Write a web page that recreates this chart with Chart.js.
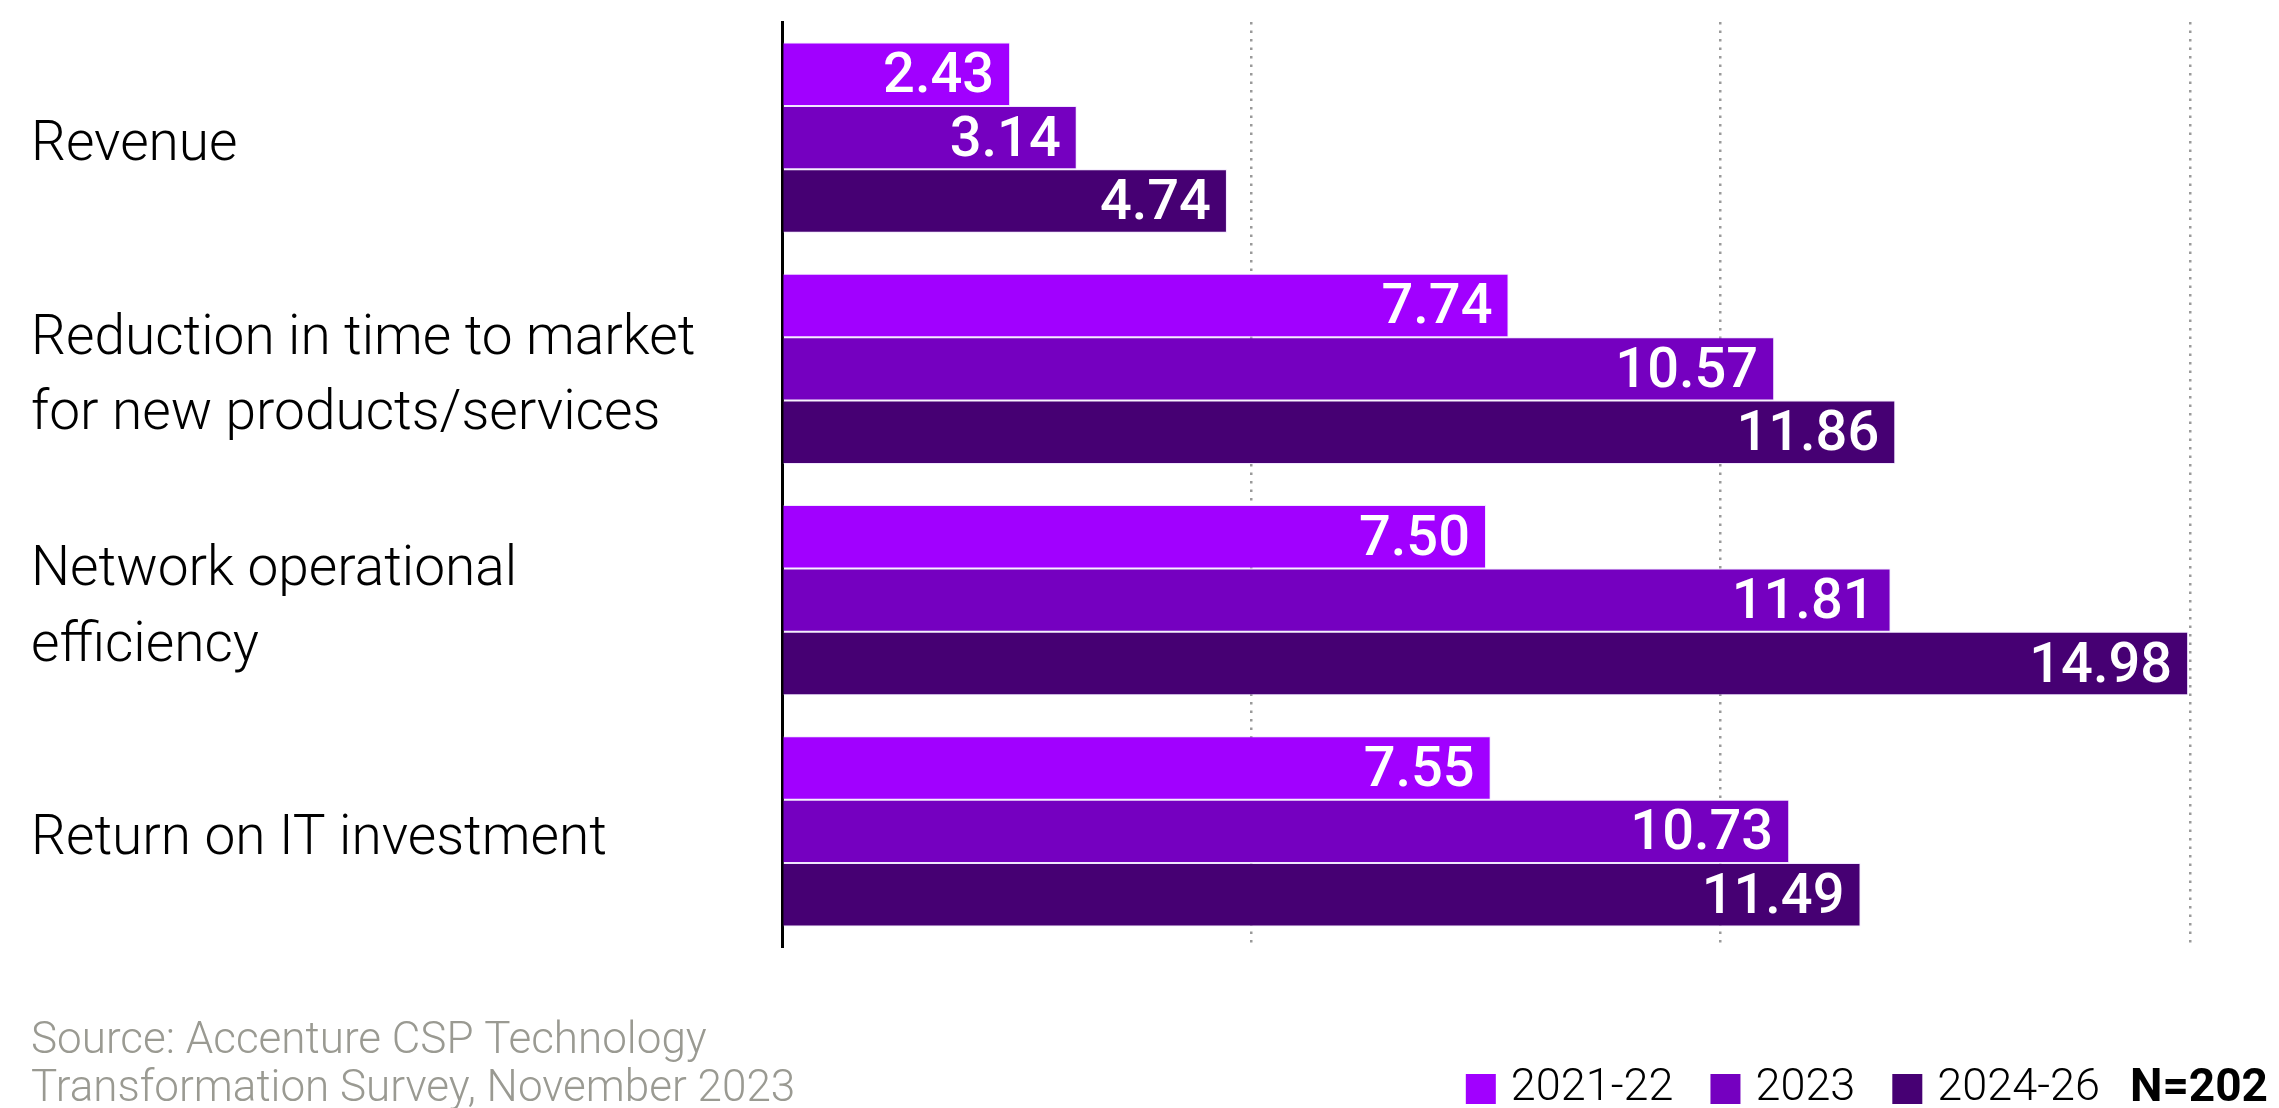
<!DOCTYPE html>
<html>
<head>
<meta charset="utf-8">
<script src="https://cdn.jsdelivr.net/npm/chart.js@4.4.0/dist/chart.umd.min.js"></script>
<style>
  body { margin: 0; background: #fff; }
  #wrap { width: 2279px; height: 1108px; position: relative; }
</style>
</head>
<body>
<div id="wrap"><canvas id="benefitsChart"></canvas></div>
<script>
// categories and series
const categories = [
    'Revenue',
    ['Reduction in time to market', 'for new products/services'],
    ['Network operational', 'efficiency'],
    'Return on IT investment'
];
const seriesNames = ['2021-22', '2023', '2024-26'];
const values2021 = [2.43, 7.74, 7.50, 7.55];
const values2023 = [3.14, 10.57, 11.81, 10.73];
const values2024 = [4.74, 11.86, 14.98, 11.49];
const xTicks = [0, 5, 10, 15];

const colors = ['#a100ff', '#7500c0', '#460073'];
const sourceLines = ['Source: Accenture CSP Technology', 'Transformation Survey, November 2023'];
const sampleNote = 'N=202';

const FONT = 'Roboto, "Liberation Sans", sans-serif';

// white value labels inside bar ends
const valueLabels = {
    id: 'valueLabels',
    afterDatasetsDraw(chart) {
        const ctx = chart.ctx;
        ctx.save();
        ctx.font = '500 56px ' + FONT;
        ctx.fillStyle = '#fff';
        ctx.textAlign = 'right';
        ctx.textBaseline = 'middle';
        chart.data.datasets.forEach((ds, i) => {
            chart.getDatasetMeta(i).data.forEach((bar, j) => {
                ctx.fillText(ds.data[j].toFixed(2), bar.x - 16, bar.y + 4);
            });
        });
        ctx.restore();
    }
};

// source note, legend and N at the bottom
const footer = {
    id: 'footer',
    afterDraw(chart) {
        const ctx = chart.ctx;
        ctx.save();
        ctx.textBaseline = 'middle';
        ctx.font = '300 44px ' + FONT;
        ctx.fillStyle = '#9a9a92';
        ctx.textAlign = 'left';
        ctx.fillText(sourceLines[0], 31, 1042);
        ctx.fillText(sourceLines[1], 31, 1090);

        const y = 1089;
        ctx.font = '700 46px ' + FONT;
        ctx.fillStyle = '#000';
        ctx.textAlign = 'right';
        ctx.fillText(sampleNote, 2268, y);
        let right = 2268 - ctx.measureText(sampleNote).width - 30;

        ctx.font = '300 45px ' + FONT;
        for (let i = chart.data.datasets.length - 1; i >= 0; i--) {
            const label = chart.data.datasets[i].label;
            const w = ctx.measureText(label).width;
            ctx.fillStyle = '#000';
            ctx.textAlign = 'right';
            ctx.fillText(label, right, y);
            const boxRight = right - w - 15;
            ctx.fillStyle = chart.data.datasets[i].backgroundColor;
            ctx.fillRect(boxRight - 30, y - 15, 30, 30);
            right = boxRight - 30 - 37;
        }
        ctx.restore();
    }
};

function makeDataset(label, data, color) {
    return {
        label: label,
        data: data,
        backgroundColor: color,
        borderColor: 'rgba(225,200,255,0.45)',
        borderWidth: 1,
        barPercentage: 1.0,
        categoryPercentage: 0.823
    };
}

new Chart(document.getElementById('benefitsChart'), {
    type: 'bar',
    data: {
        labels: categories,
        datasets: [
            makeDataset(seriesNames[0], values2021, colors[0]),
            makeDataset(seriesNames[1], values2023, colors[1]),
            makeDataset(seriesNames[2], values2024, colors[2])
        ]
    },
    options: {
        indexAxis: 'y',
        responsive: true,
        maintainAspectRatio: false,
        animation: false,
        layout: { padding: { left: 31, right: 89, top: 22, bottom: 161 } },
        plugins: {
            legend: { display: false },
            tooltip: { enabled: false }
        },
        scales: {
            x: {
                min: xTicks[0],
                max: xTicks[xTicks.length - 1],
                afterBuildTicks(scale) {
                    scale.ticks = xTicks.map(v => ({ value: v }));
                },
                ticks: { display: false },
                grid: { color: '#9a9a9a', lineWidth: 2.5, drawTicks: false },
                border: { display: false, dash: [2.5, 6] }
            },
            y: {
                grid: { display: false },
                border: { display: true, color: '#000', width: 3 },
                ticks: {
                    crossAlign: 'far',
                    labelOffset: 9,
                    color: '#000',
                    font: { family: FONT, size: 55, weight: 300, lineHeight: 1.37 }
                },
                afterFit(scale) {
                    scale.width = 751;
                    scale.paddingTop = 0;
                    scale.paddingBottom = 0;
                }
            }
        }
    },
    plugins: [valueLabels, footer]
});
</script>
</body>
</html>
